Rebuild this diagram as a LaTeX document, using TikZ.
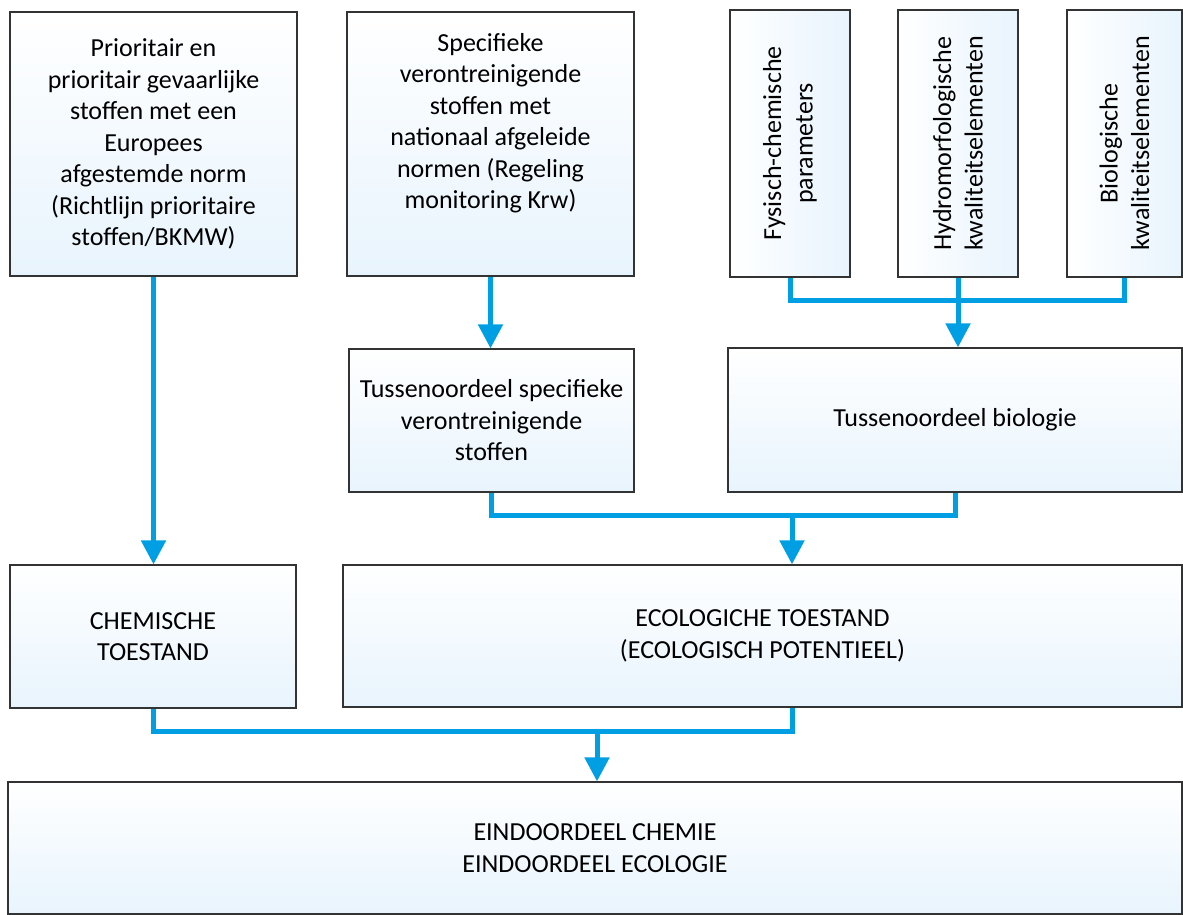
\documentclass[tikz,border=0pt]{standalone}
\usepackage{fontspec}
\setmainfont{Carlito}
\usetikzlibrary{arrows.meta,positioning}
\definecolor{flowblue}{HTML}{009FE3}
\definecolor{boxblue}{HTML}{E8F4FD}

\begin{document}
\begin{tikzpicture}[x=1pt,y=-1pt]
\tikzset{BoxStyle/.style = {draw=black!80, line width=1.2pt,
                            top color=white, bottom color=boxblue,
                            align=center, inner sep=0pt,
                            font=\fontsize{26}{31.5}\selectfont},
         SideStyle/.style = {BoxStyle, rotate=90,
                             left color=white, right color=boxblue},
         FlowStyle/.style = {draw=flowblue, line width=5pt,
                             -{Triangle[width=24pt,length=24pt]}},
         LinkStyle/.style = {draw=flowblue, line width=5pt}}
\useasboundingbox (0,0) rectangle (1183,915);
% top row
\node[BoxStyle,minimum width=287pt,minimum height=264pt] (A) at (153.5,144)
  {Prioritair en\\prioritair gevaarlijke\\stoffen met een\\Europees\\afgestemde norm\\(Richtlijn prioritaire\\stoffen/BKMW)};
\node[BoxStyle,minimum width=287pt,minimum height=264pt] (B) at (490.5,144) {};
\node[align=center,font=\fontsize{26}{31.5}\selectfont] (Btext) at (490.5,123)
  {Specifieke\\verontreinigende\\stoffen met\\nationaal afgeleide\\normen (Regeling\\monitoring Krw)};
\node[SideStyle,minimum width=267pt,minimum height=120pt] (C1) at (790,143.5)
  {Fysisch-chemische\\parameters};
\node[SideStyle,minimum width=267pt,minimum height=120pt] (C2) at (958,143.5)
  {Hydromorfologische\\kwaliteitselementen};
\node[SideStyle,minimum width=267pt,minimum height=115pt] (C3) at (1124.5,143.5)
  {Biologische\\kwaliteitselementen};
% middle row
\node[BoxStyle,minimum width=285pt,minimum height=143pt] (E) at (491.5,420.5)
  {Tussenoordeel specifieke\\verontreinigende\\stoffen};
\node[BoxStyle,minimum width=454pt,minimum height=144pt] (D) at (955,420)
  {Tussenoordeel biologie};
\node[BoxStyle,minimum width=286pt,minimum height=143pt] (F) at (153,636.5)
  {CHEMISCHE\\TOESTAND};
\node[BoxStyle,minimum width=839pt,minimum height=142pt] (G) at (762.5,636)
  {ECOLOGICHE TOESTAND\\(ECOLOGISCH POTENTIEEL)};
% bottom
\node[BoxStyle,minimum width=1174pt,minimum height=132pt] (H) at (595,848)
  {EINDOORDEEL CHEMIE\\EINDOORDEEL ECOLOGIE};

\coordinate (jc) at (958,300);
\coordinate (jeg) at (792,515);
\coordinate (jfh) at (597,731);

\draw[FlowStyle] (A.south) -- (A.south |- F.north);
\draw[FlowStyle] (B.south) -- (B.south |- E.north);
\draw[LinkStyle] (C1.west) |- (C3.west |- jc) -- (C3.west);
\draw[FlowStyle] (C2.west) -- (C2.west |- D.north);
\draw[LinkStyle] (E.south) |- (D.south |- jeg) -- (D.south);
\draw[FlowStyle] (jeg) -- (jeg |- G.north);
\draw[LinkStyle] (F.south) |- (jeg |- jfh) -- (jeg |- G.south);
\draw[FlowStyle] (jfh) -- (jfh |- H.north);
\end{tikzpicture}
\end{document}
